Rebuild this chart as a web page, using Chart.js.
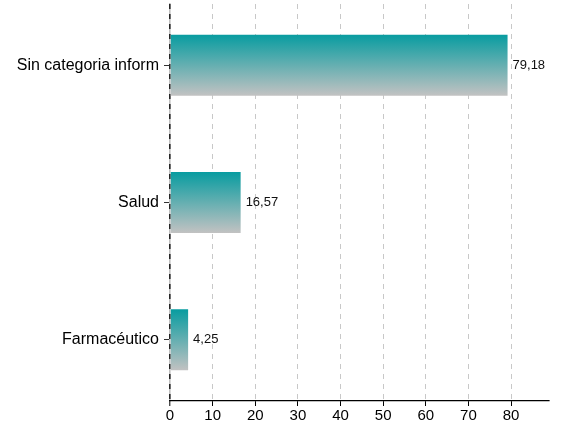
<!DOCTYPE html>
<html>
<head>
<meta charset="utf-8">
<script src="https://cdn.jsdelivr.net/npm/chart.js@4"></script>
<style>
  html, body { margin: 0; padding: 0; background: #fff; }
  #wrap { width: 561px; height: 428px; }
</style>
</head>
<body>
<div id="wrap"><canvas id="chart"></canvas></div>
<script>
const categories = ['Sin categoria inform', 'Salud', 'Farmacéutico'];
const values = [79.18, 16.57, 4.25];
const xTicks = [0, 10, 20, 30, 40, 50, 60, 70, 80];
const xMax = 88.9;

const fmt = v => v.toFixed(2).replace('.', ',');

// per-bar vertical gradient: teal on top, grey at the bottom
function barFill(ctx) {
  const chart = ctx.chart;
  const y = chart.scales.y;
  if (!chart.chartArea || !y || ctx.raw == null) return '#0a9ca0';
  const c = y.getPixelForValue(ctx.raw.y);
  const step = Math.abs(y.getPixelForValue(1) - y.getPixelForValue(0));
  const half = step * 0.444 / 2;
  const g = chart.ctx.createLinearGradient(0, c - half, 0, c + half);
  g.addColorStop(0, '#089ca0');
  g.addColorStop(1, '#c2c2c2');
  return g;
}

const valueLabels = {
  id: 'valueLabels',
  afterDatasetsDraw(chart) {
    const ctx = chart.ctx;
    ctx.save();
    ctx.font = '13px "Liberation Sans", Arial, sans-serif';
    ctx.fillStyle = '#111';
    ctx.textAlign = 'left';
    ctx.textBaseline = 'middle';
    chart.getDatasetMeta(0).data.forEach((bar, i) => {
      ctx.fillText(fmt(values[i]), bar.x + 5, bar.y);
    });
    ctx.restore();
  }
};

const isZero = c => c.tick && c.tick.value === 0;

new Chart(document.getElementById('chart'), {
  type: 'bar',
  data: {
    datasets: [{
      data: values.map((v, i) => ({ x: v, y: i })),
      backgroundColor: barFill,
      borderWidth: 0,
      barPercentage: 0.444,
      categoryPercentage: 1
    }]
  },
  options: {
    indexAxis: 'y',
    responsive: true,
    maintainAspectRatio: false,
    animation: false,
    layout: { padding: { top: 4, right: 12, bottom: 0, left: 0 } },
    plugins: { legend: { display: false }, tooltip: { enabled: false } },
    scales: {
      x: {
        type: 'linear',
        min: 0,
        max: xMax,
        afterBuildTicks: axis => { axis.ticks = xTicks.map(v => ({ value: v })); },
        afterFit: axis => { axis.height = 27; axis.paddingLeft = 0; axis.paddingRight = 0; },
        ticks: { color: '#000', padding: 1, font: { family: '"Liberation Sans", Arial, sans-serif', size: 15 } },
        grid: {
          color: c => isZero(c) ? '#333' : '#c8c8c8',
          lineWidth: c => isZero(c) ? 1.6 : 1,
          tickColor: '#000',
          tickWidth: 1,
          tickLength: 5,
          tickBorderDash: []
        },
        border: { display: true, color: '#000', width: 1.2, dash: [5, 5] }
      },
      y: {
        type: 'linear',
        reverse: true,
        offset: false,
        min: -0.445,
        max: 2.445,
        afterBuildTicks: axis => { axis.ticks = categories.map((c, i) => ({ value: i })); },
        afterFit: axis => { axis.width = 170; axis.paddingTop = 0; axis.paddingBottom = 0; },
        ticks: {
          color: '#000',
          padding: 5,
          callback: v => categories[v],
          font: { family: '"Liberation Sans", Arial, sans-serif', size: 16 }
        },
        grid: { offset: false, drawOnChartArea: false, color: '#333', tickColor: '#333', tickLength: 6 },
        border: { display: true, color: 'rgba(0,0,0,0.25)', width: 1.6 }
      }
    }
  },
  plugins: [valueLabels]
});
</script>
</body>
</html>
